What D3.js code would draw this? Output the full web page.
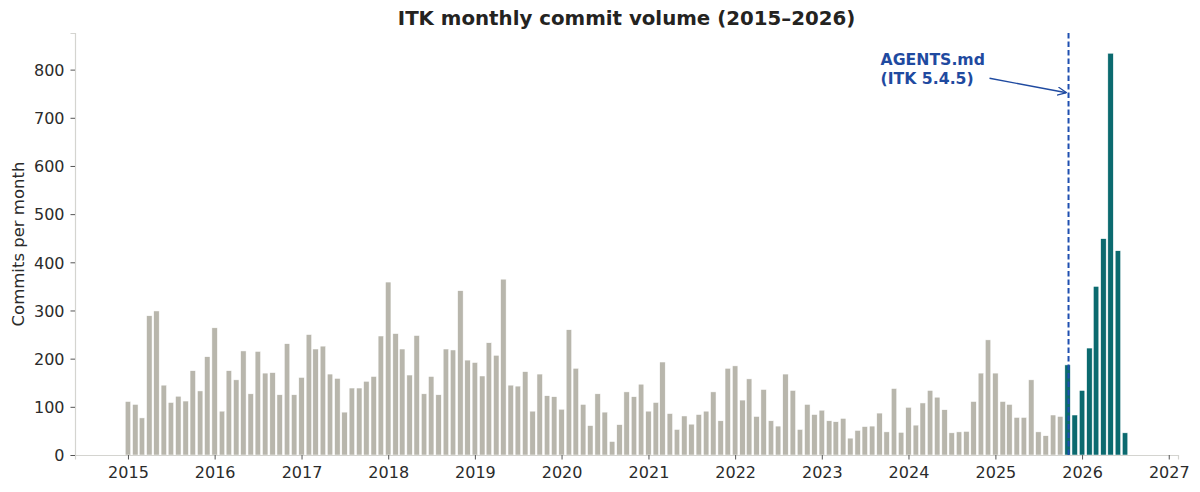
<!DOCTYPE html>
<html>
<head>
<meta charset="utf-8">
<script src="https://cdn.jsdelivr.net/npm/d3@7"></script>
<style>
  body { margin: 0; background: #fff; }
  svg { display: block; font-family: "DejaVu Sans", sans-serif; }
  .tick text { fill: #2b2b2b; font-size: 16px; }
</style>
</head>
<body>
<div id="chart"></div>
<script>
// monthly commit counts, Jan..Dec
const years = [2015, 2016, 2017, 2018, 2019, 2020, 2021, 2022, 2023, 2024, 2025, 2026];
const commits2015 = [111, 105, 77, 289, 299, 145, 109, 122, 112, 175, 133, 204];
const commits2016 = [264, 91, 175, 156, 216, 127, 215, 170, 171, 125, 231, 125];
const commits2017 = [161, 250, 220, 226, 168, 159, 89, 139, 139, 153, 163, 247];
const commits2018 = [359, 252, 220, 166, 248, 127, 163, 125, 220, 218, 341, 197];
const commits2019 = [192, 164, 233, 207, 365, 145, 143, 173, 91, 168, 123, 121];
const commits2020 = [95, 260, 180, 105, 61, 127, 89, 28, 63, 131, 121, 147];
const commits2021 = [91, 109, 193, 86, 53, 81, 64, 84, 91, 131, 71, 180];
const commits2022 = [185, 114, 158, 80, 136, 71, 60, 168, 134, 53, 105, 84];
const commits2023 = [93, 71, 69, 76, 35, 51, 59, 60, 87, 48, 138, 47];
const commits2024 = [99, 62, 108, 134, 120, 94, 46, 48, 49, 111, 170, 239];
const commits2025 = [170, 111, 105, 78, 78, 156, 48, 40, 83, 80, 187, 83];
const commits2026 = [134, 222, 350, 449, 834, 424, 46];

const yTicks = [0, 100, 200, 300, 400, 500, 600, 700, 800];
const xTickYears = d3.range(2015, 2028);

const releaseDate = new Date(2025, 10, 5);   // AGENTS.md added (ITK 5.4.5)
const highlightFrom = new Date(2025, 10, 1); // bars from here on are teal
const annotationLines = ["AGENTS.md", "(ITK 5.4.5)"];

const W = 1200, H = 492;
const margin = { top: 33, right: 22, bottom: 37, left: 75 };

const perYear = [commits2015, commits2016, commits2017, commits2018, commits2019, commits2020,
  commits2021, commits2022, commits2023, commits2024, commits2025, commits2026];

const months = [];
perYear.forEach((vals, i) => {
  vals.forEach((v, m) => months.push({ date: new Date(years[i], m, 1), value: v }));
});

const svg = d3.select("#chart").append("svg")
  .attr("width", W)
  .attr("height", H);

const x = d3.scaleTime()
  .domain([new Date(2014, 4, 23), new Date(2027, 1, 9)])
  .range([margin.left, W - margin.right]);

const y = d3.scaleLinear()
  .domain([0, 876])
  .range([H - margin.bottom, margin.top]);

const halfBar = 11.5 * 24 * 3600 * 1000;

// bars
svg.append("g")
  .selectAll("rect")
  .data(months)
  .join("rect")
  .attr("x", d => x(new Date(+d.date - halfBar)))
  .attr("width", d => x(new Date(+d.date + halfBar)) - x(new Date(+d.date - halfBar)))
  .attr("y", d => y(d.value))
  .attr("height", d => y(0) - y(d.value))
  .attr("fill", d => d.date >= highlightFrom ? "#0b6a6f" : "#b8b6ac")
  .attr("stroke", "#fff")
  .attr("stroke-width", 0.5);

// axes
const xAxis = svg.append("g")
  .attr("transform", `translate(0,${y(0)})`)
  .call(d3.axisBottom(x)
    .tickValues(xTickYears.map(yr => new Date(yr, 0, 1)))
    .tickFormat(d3.timeFormat("%Y"))
    .tickSize(4.5)
    .tickPadding(7));

const yAxis = svg.append("g")
  .attr("transform", `translate(${margin.left},0)`)
  .call(d3.axisLeft(y)
    .tickValues(yTicks)
    .tickSize(4.5)
    .tickPadding(6));

[xAxis, yAxis].forEach(a => {
  a.select(".domain").attr("stroke", "#d4d4d0").attr("stroke-width", 1.2);
  a.selectAll(".tick line").attr("stroke", "#555").attr("stroke-width", 1);
  a.selectAll(".tick text").attr("font-family", "DejaVu Sans");
});
xAxis.selectAll(".tick text").attr("dy", "0.71em");
yAxis.selectAll(".tick text").attr("dy", "0.36em");

// release marker
const xr = x(releaseDate);
svg.append("line")
  .attr("x1", xr).attr("x2", xr)
  .attr("y1", margin.top).attr("y2", y(0))
  .attr("stroke", "#1f4fb0")
  .attr("stroke-width", 2)
  .attr("stroke-dasharray", "5.5,3");

svg.append("defs").append("marker")
  .attr("id", "arrow-open")
  .attr("viewBox", "0 -5 10 10")
  .attr("refX", 10)
  .attr("markerWidth", 9)
  .attr("markerHeight", 9)
  .attr("markerUnits", "userSpaceOnUse")
  .attr("orient", "auto")
  .append("path")
  .attr("d", "M0,-4.5L10,0L0,4.5")
  .attr("fill", "none")
  .attr("stroke", "#1f4aa0")
  .attr("stroke-width", 1.4);

svg.append("line")
  .attr("x1", xr - 79).attr("y1", y(782))
  .attr("x2", xr - 2).attr("y2", y(752))
  .attr("stroke", "#1f4aa0")
  .attr("stroke-width", 1.4)
  .attr("marker-end", "url(#arrow-open)");

const note = svg.append("text")
  .attr("x", xr - 188)
  .attr("y", y(809))
  .attr("fill", "#1f4aa0")
  .attr("font-size", "15.7px")
  .attr("font-weight", "bold");
annotationLines.forEach((t, i) => {
  note.append("tspan")
    .attr("x", xr - 188)
    .attr("dy", i === 0 ? 0 : 19)
    .text(t);
});

// title + y label
svg.append("text")
  .attr("x", (margin.left + W - margin.right) / 2)
  .attr("y", 25)
  .attr("text-anchor", "middle")
  .attr("font-size", "19.8px")
  .attr("font-weight", "bold")
  .attr("fill", "#24231f")
  .text("ITK monthly commit volume (2015\u20132026)");

svg.append("text")
  .attr("transform", `translate(24,${(margin.top + y(0)) / 2}) rotate(-90)`)
  .attr("text-anchor", "middle")
  .attr("font-size", "16.5px")
  .attr("fill", "#2b2b2b")
  .text("Commits per month");
</script>
</body>
</html>
